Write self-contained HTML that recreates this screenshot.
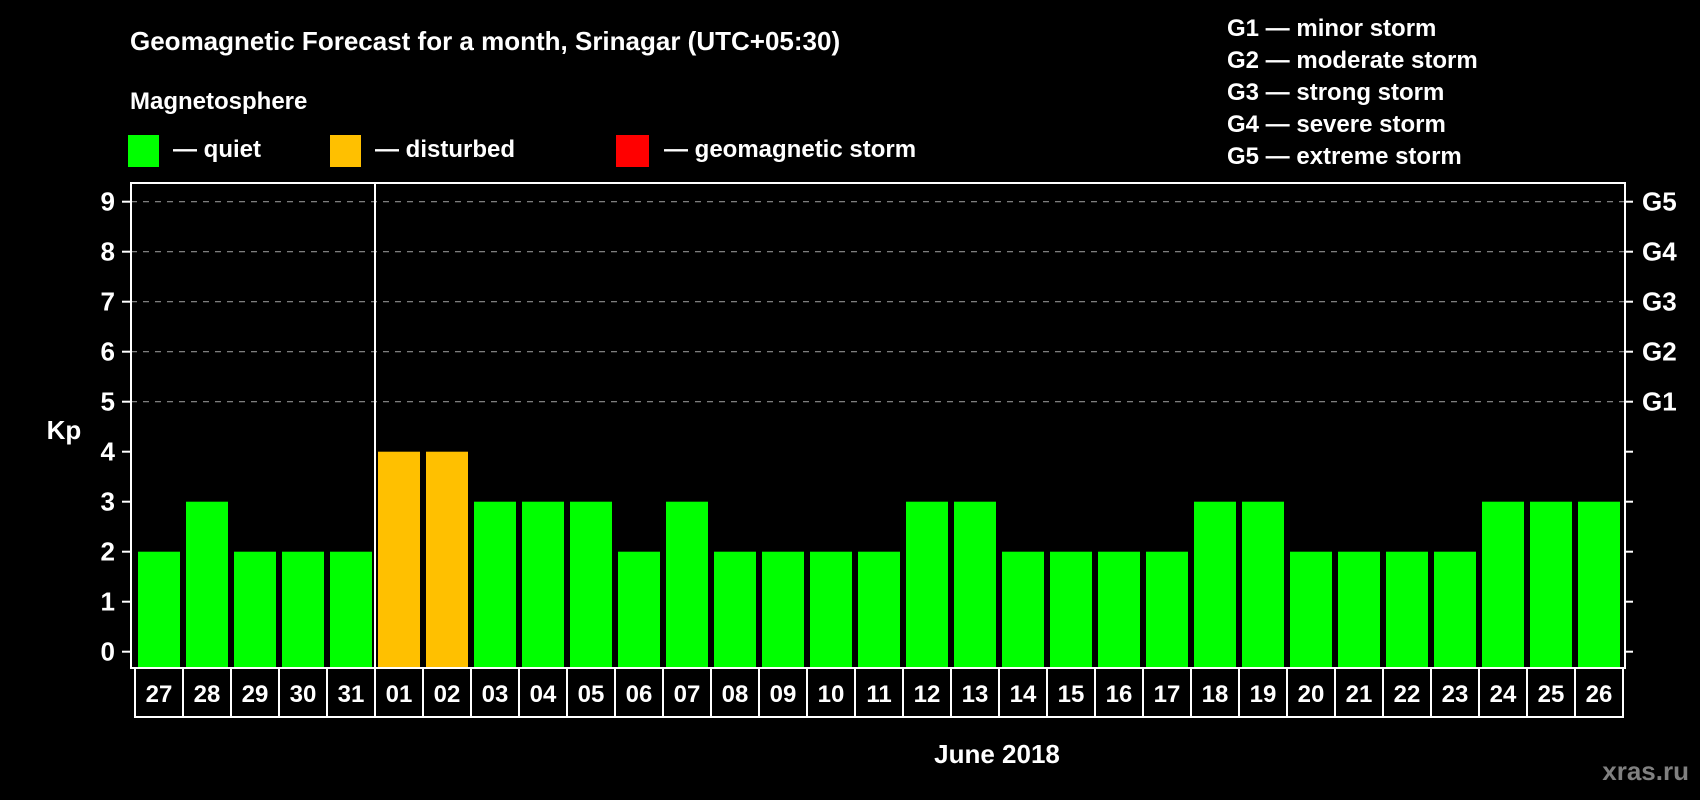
<!DOCTYPE html>
<html><head><meta charset="utf-8"><style>
html,body{margin:0;padding:0;background:#000;}
svg{display:block;font-family:"Liberation Sans",Arial,sans-serif;font-weight:bold;}
</style></head><body>
<svg id="c" width="1700" height="800" viewBox="0 0 1700 800" xmlns="http://www.w3.org/2000/svg">
<rect width="1700" height="800" fill="#000"/>
<text x="130" y="50" fill="#fff" font-size="26">Geomagnetic Forecast for a month, Srinagar (UTC+05:30)</text>
<text x="130" y="109" fill="#fff" font-size="24">Magnetosphere</text>
<g>
<rect x="128" y="135" width="31" height="32" fill="#00ff00"/>
<text x="173" y="157" fill="#fff" font-size="24">— quiet</text></g>
<g>
<rect x="330" y="135" width="31" height="32" fill="#ffc000"/>
<text x="375" y="157" fill="#fff" font-size="24">— disturbed</text></g>
<g>
<rect x="616" y="135" width="33" height="32" fill="#ff0000"/>
<text x="664" y="157" fill="#fff" font-size="24">— geomagnetic storm</text></g>
<g font-size="24" fill="#fff">
<text x="1227" y="36">G1 — minor storm</text>
<text x="1227" y="68">G2 — moderate storm</text>
<text x="1227" y="100">G3 — strong storm</text>
<text x="1227" y="132">G4 — severe storm</text>
<text x="1227" y="164">G5 — extreme storm</text>
</g>
<text x="64" y="439" fill="#fff" font-size="26" text-anchor="middle">Kp</text>
<g id="plot"></g>
<text x="997" y="763" fill="#fff" font-size="26" text-anchor="middle">June 2018</text>
<text x="1689" y="780" fill="#808080" font-size="26" text-anchor="end">xras.ru</text>
</svg>
<script>
const days = ["27","28","29","30","31","01","02","03","04","05","06","07","08","09","10","11","12","13","14","15","16","17","18","19","20","21","22","23","24","25","26"];
const kpValues = [2,3,2,2,2,4,4,3,3,3,2,3,2,2,2,2,3,3,2,2,2,2,3,3,2,2,2,2,3,3,3];
const yTicks = [0,1,2,3,4,5,6,7,8,9];
const gLevels = [5,6,7,8,9];
const gLabels = ["G1","G2","G3","G4","G5"];
const monthBreakIndex = 5;

const NS="http://www.w3.org/2000/svg";
const g=document.getElementById('plot');
const L=131,R=1625,T=183,B=668,slot0=135;
const slotW=(R-2-slot0)/days.length;
function y(v){return 651.7-v*50;}
function xs(i){return slot0+i*slotW;}
function mk(tag,a){const e=document.createElementNS(NS,tag);for(const k in a)e.setAttribute(k,a[k]);g.appendChild(e);return e;}
function color(v){return v>=5?"#ff0000":(v>=4?"#ffc000":"#00ff00");}

gLevels.forEach((v,i)=>{
  const l=mk('line',{x1:L,x2:R,y1:y(v),y2:y(v),stroke:"#909090","stroke-width":1.2,"stroke-dasharray":"6 6"});
  
  
  const t=mk('line',{x1:R,x2:R+8,y1:y(v),y2:y(v),stroke:"#fff","stroke-width":2});
  
  
  const tx=mk('text',{x:R+17,y:y(v)+9,fill:"#fff","font-size":26});
  tx.textContent=gLabels[i];
  
  
});
yTicks.forEach(v=>{
  const t=mk('line',{x1:L-9,x2:L,y1:y(v),y2:y(v),stroke:"#fff","stroke-width":2});
  
  
  if(v<5){const t2=mk('line',{x1:R,x2:R+8,y1:y(v),y2:y(v),stroke:"#fff","stroke-width":2});
  
  }
  const tx=mk('text',{x:115,y:y(v)+9,fill:"#fff","font-size":26,"text-anchor":"end"});
  tx.textContent=v;
  
  
});
kpValues.forEach((v,i)=>{
  const b=mk('rect',{x:xs(i)+3,y:y(v),width:slotW-6,height:B-y(v),fill:color(v)});
  
  
});
const fr=mk('rect',{x:L,y:T,width:R-L,height:B-T,fill:"none",stroke:"#fff","stroke-width":2});


const dv=mk('line',{x1:xs(monthBreakIndex),x2:xs(monthBreakIndex),y1:T,y2:B,stroke:"#fff","stroke-width":2});


days.forEach((d,i)=>{
  const r=mk('rect',{x:xs(i),y:B,width:slotW,height:49,fill:"#000",stroke:"#fff","stroke-width":2});
  
  
  const t=mk('text',{x:xs(i)+slotW/2,y:B+34,fill:"#fff","font-size":24,"text-anchor":"middle"});
  t.textContent=d;
  
  
});
</script>
</body></html>
